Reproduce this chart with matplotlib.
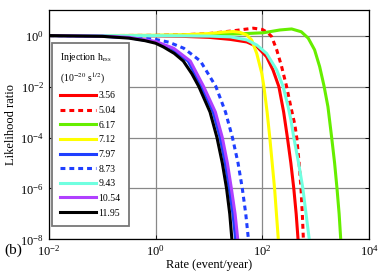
import numpy as np
import matplotlib
matplotlib.use('Agg')
import matplotlib.pyplot as plt


# log10 of rate (event/year) and log10 of likelihood ratio
inj_labels = ['3.56', '5.04', '6.17', '7.12', '7.97', '8.73', '9.43', '10.54', '11.95']

logr_356 = [-2, -1, 0, 0.5, 1.0, 1.4, 1.71, 1.9, 2.08, 2.2, 2.31, 2.40, 2.47, 2.535, 2.59, 2.635, 2.67, 2.70]
logl_356 = [0, -0.003, -0.01, -0.03, -0.07, -0.15, -0.25, -0.43, -0.83, -1.35, -2, -3, -4, -5, -6, -7, -8, -8.8]

logr_504 = [-2, -1, 0, 0.5, 1.0, 1.5, 1.83, 2.0, 2.1, 2.175, 2.27, 2.36, 2.455, 2.535, 2.61, 2.645, 2.69, 2.725, 2.75, 2.77, 2.79]
logl_504 = [0, 0, 0.01, 0.03, 0.08, 0.2, 0.29, 0.24, 0.12, -0.04, -0.56, -1.2, -2.0, -2.8, -3.5, -4, -5, -6, -7, -8, -8.8]

logr_617 = [-2, -1, 0, 1.0, 1.4, 1.7, 2.02, 2.33, 2.55, 2.73, 2.86, 2.98, 3.075, 3.155, 3.23, 3.30, 3.355, 3.40, 3.44, 3.47, 3.49]
logl_617 = [0, 0, 0.005, 0.03, 0.06, 0.08, 0.11, 0.22, 0.26, 0.15, -0.1, -0.56, -1.22, -1.96, -2.79, -4, -5, -6, -7, -8, -8.8]

logr_712 = [-2, -1, 0, 0.5, 1.0, 1.3, 1.45, 1.58, 1.71, 1.80, 1.895, 1.99, 2.03, 2.09, 2.14, 2.185, 2.23, 2.265, 2.30, 2.32]
logl_712 = [0, 0.002, 0.01, 0.03, 0.08, 0.14, 0.16, 0.13, 0.02, -0.17, -0.7, -1.48, -2, -3, -4, -5, -6, -7, -8, -8.8]

logr_797 = [-2, -1, -0.5, 0, 0.3, 0.61, 0.86, 1.08, 1.21, 1.305, 1.38, 1.45, 1.50, 1.53]
logl_797 = [0, -0.03, -0.08, -0.25, -0.5, -1, -2, -3, -4, -5, -6, -7, -8, -8.8]

logr_873 = [-2, -1, -0.5, 0, 0.25, 0.53, 0.84, 1.13, 1.31, 1.44, 1.545, 1.625, 1.69, 1.74, 1.77]
logl_873 = [0, -0.015, -0.05, -0.15, -0.26, -0.5, -1, -2, -3, -4, -5, -6, -7, -8, -8.8]

logr_943 = [-2, -1, 0, 1.0, 1.4, 1.71, 1.895, 2.08, 2.27, 2.39, 2.485, 2.535, 2.59, 2.68, 2.76, 2.82, 2.88, 2.91]
logl_943 = [0, -0.002, -0.005, -0.02, -0.05, -0.17, -0.37, -0.70, -1.35, -2, -2.8, -3.3, -4, -5, -6, -7, -8, -8.8]

logr_1054 = [-2, -1, -0.5, 0, 0.34, 0.65, 0.9, 1.12, 1.25, 1.345, 1.42, 1.49, 1.54, 1.57]
logl_1054 = [0, -0.02, -0.07, -0.23, -0.5, -1, -2, -3, -4, -5, -6, -7, -8, -8.8]

logr_1195 = [-2, -1, -0.5, -0.2, 0, 0.15, 0.35, 0.52, 0.68, 0.81, 1.02, 1.15, 1.25, 1.33, 1.39, 1.43, 1.46]
logl_1195 = [0, -0.03, -0.1, -0.2, -0.3, -0.45, -0.7, -1, -1.5, -2, -3, -4, -5, -6, -7, -8, -8.8]


def main():
    plt.rcParams['font.family'] = ['Liberation Serif', 'DejaVu Serif']
    plt.rcParams['mathtext.fontset'] = 'stix'

    curves = [(logr_356, logl_356), (logr_504, logl_504), (logr_617, logl_617),
              (logr_712, logl_712), (logr_797, logl_797), (logr_873, logl_873),
              (logr_943, logl_943), (logr_1054, logl_1054), (logr_1195, logl_1195)]
    colors = ['#ff0000', '#ff0000', '#66ee00', '#ffff00', '#1f3fff',
              '#1f3fff', '#70ffe0', '#b040ff', '#000000']
    dashed = [False, True, False, False, False, True, False, False, False]

    fig = plt.figure(figsize=(3.82, 2.73), dpi=100)
    ax = fig.add_axes([0.128, 0.123, 0.838, 0.840])

    for (lr, ll), col, dsh, lab in zip(curves, colors, dashed, inj_labels):
        x = 10.0 ** np.array(lr)
        y = 10.0 ** np.array(ll)
        if dsh:
            ax.plot(x, y, color=col, lw=2.2, dashes=(1.6, 1.3), label=lab)
        else:
            ax.plot(x, y, color=col, lw=2.2, label=lab)

    ax.set_xscale('log')
    ax.set_yscale('log')
    ax.set_xlim(1e-2, 1e4)
    ax.set_ylim(1e-8, 1e1)
    ax.set_xticks([1e-2, 1e0, 1e2, 1e4])
    ax.set_yticks([1e-8, 1e-6, 1e-4, 1e-2, 1e0])
    ax.minorticks_off()
    ax.tick_params(direction='in', length=3, width=0.6, top=True, right=True, labelsize=9)
    ax.grid(True, color='#888888', lw=0.9)
    ax.set_axisbelow(True)
    for sp in ax.spines.values():
        sp.set_linewidth(0.9)

    ax.set_xlabel('Rate (event/year)', fontsize=9, labelpad=0)
    ax.set_ylabel('Likelihood ratio', fontsize=9, labelpad=2)

    leg = ax.legend(loc='upper left', bbox_to_anchor=(0.009, 0.857), borderaxespad=0,
                    title='Injection h$_{\\rm rss}$\n(10$^{-20}$ s$^{1/2}$)',
                    fontsize=7, title_fontsize=7, alignment='left',
                    handlelength=3.7, handletextpad=0.25, labelspacing=0.58,
                    borderpad=0.85, fancybox=False, framealpha=1)
    leg.get_title().set_linespacing(1.6)
    leg.get_frame().set_edgecolor('#777777')
    leg.get_frame().set_linewidth(1.3)

    fig.text(0.012, 0.07, '(b)', fontsize=11)

    fig.savefig('out.png', dpi=100)
    return


if __name__ == "__main__":
    main()
